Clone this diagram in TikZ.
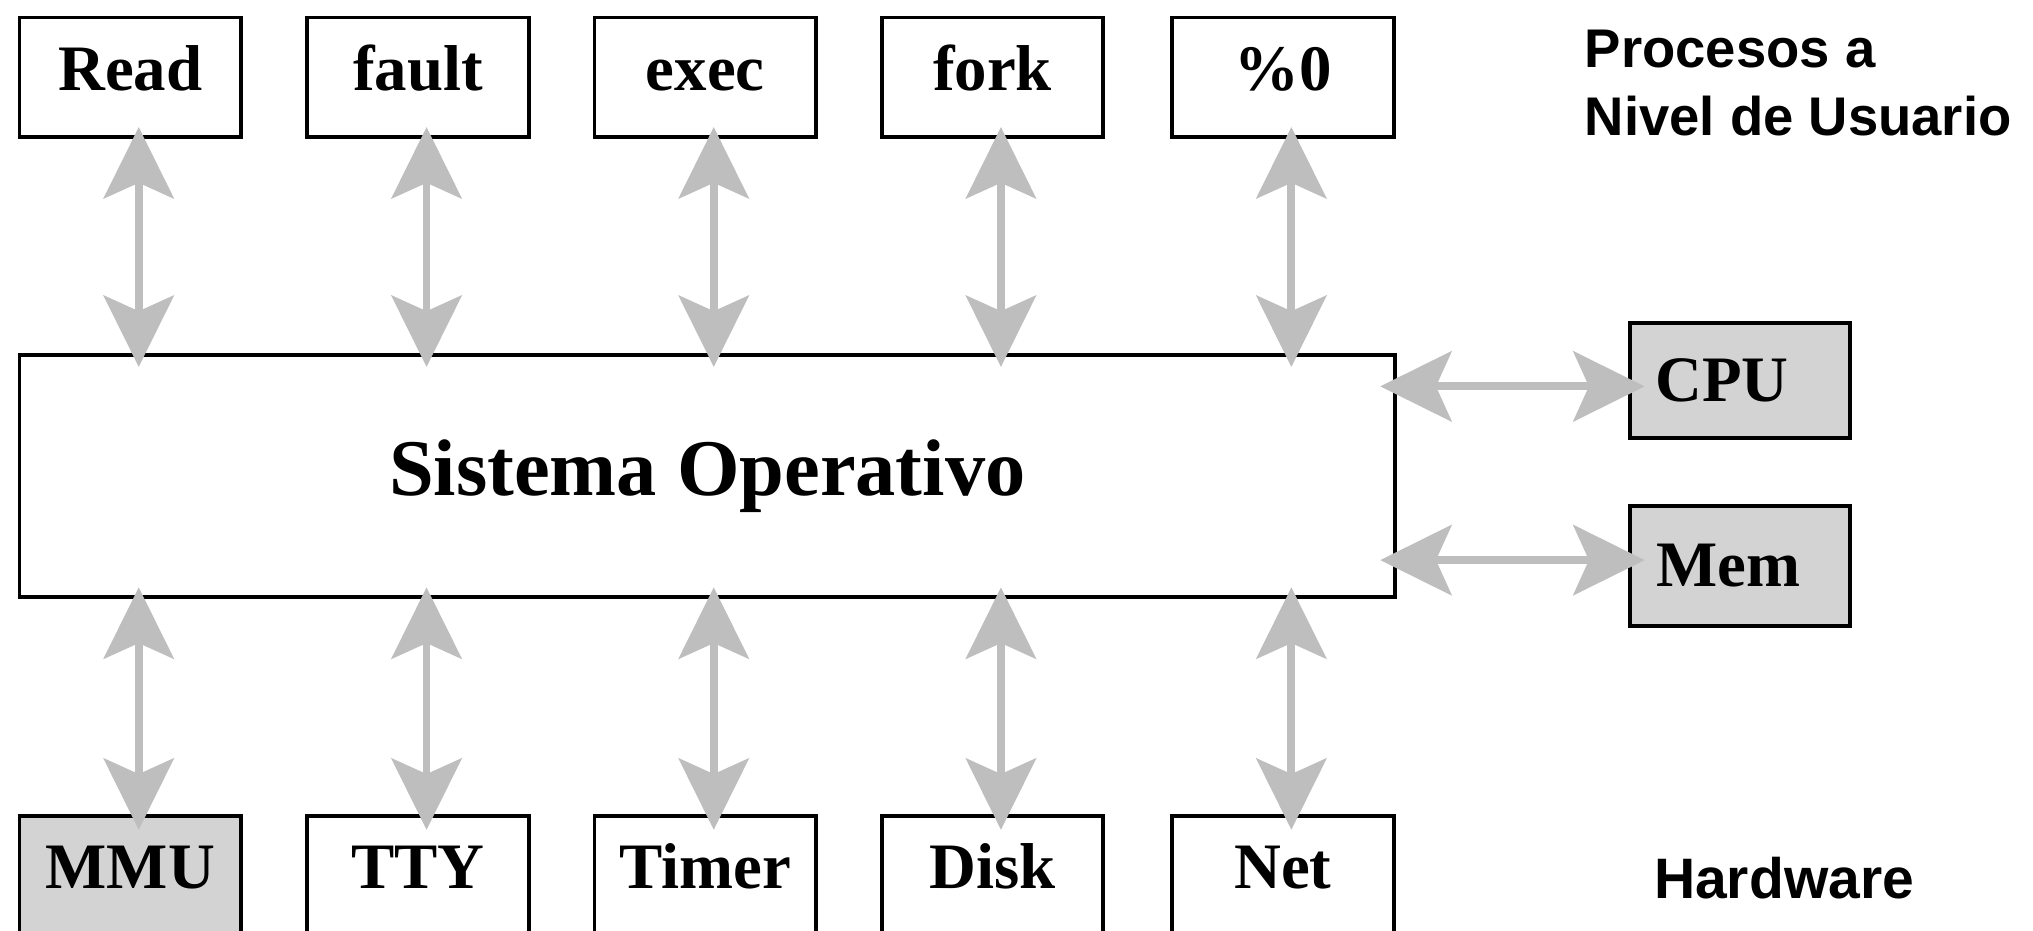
\documentclass[tikz,border=0pt]{standalone}
\usepackage{fontspec}
\setmainfont{Liberation Serif}
\newfontfamily\sidefont{Liberation Sans}
\usetikzlibrary{arrows.meta}
\definecolor{arrowgray}{RGB}{190,190,190}
\definecolor{boxgray}{RGB}{211,211,211}
\begin{document}
\begin{tikzpicture}[x=0.5pt,y=-0.5pt,
  box/.style={draw=black, line width=1.5pt, fill=white, inner sep=0pt,
    minimum width=85.5pt, font=\fontsize{25}{30}\selectfont\bfseries},
  topbox/.style={box, anchor=north, text height=28pt, text depth=18pt},
  hwbox/.style={box, anchor=north, text height=28pt, text depth=40pt},
  grayfill/.style={fill=boxgray},
  sidebox/.style={box, grayfill, minimum width=85pt},
  arr/.style={draw=arrowgray, line width=3pt,
    {Stealth[length=27.5pt,width=27pt,inset=6pt,fill=arrowgray]}-{Stealth[length=27.5pt,width=27pt,inset=6pt,fill=arrowgray]}},
  sidelabel/.style={font=\sidefont\fontsize{21}{26}\selectfont\bfseries, inner sep=0pt, align=left}
]
\useasboundingbox (0,0) rectangle (1568,718);
\fill[white] (0,0) rectangle (1568,718);

% top row
\node[topbox] (rd) at (100.5,12) {Read};
\node[topbox] (ft) at (322.5,12) {fault};
\node[topbox] (ex) at (544,12) {exec};
\node[topbox] (fk) at (765.5,12) {fork};
\node[topbox] (pc) at (989.5,12) {\%0};

% OS box
\node[box, minimum width=530.5pt, minimum height=93.5pt,
  font=\fontsize{31}{36}\selectfont\bfseries] (os) at (545.5,367) {Sistema Operativo};

% side boxes
\node[sidebox, minimum height=44.5pt] (cpu) at (1342,293.5) {CPU\hspace*{14pt}};
\node[sidebox, minimum height=46.5pt] (mem) at (1342,436.5) {Mem\hspace*{9pt}};

% bottom row
\node[hwbox, grayfill] (mmu) at (100.5,628) {MMU};
\node[hwbox] (tty) at (322.5,628) {TTY};
\node[hwbox] (tmr) at (544,628) {Timer};
\node[hwbox] (dsk) at (765.5,628) {Disk};
\node[hwbox] (net) at (989.5,628) {Net};

% labels
\node[sidelabel, anchor=west] (usr) at (1222,64) {Procesos a\\Nivel de Usuario};
\node[sidelabel, font=\sidefont\fontsize{22}{26}\selectfont\bfseries] (hw) at (1376,677) {Hardware};

% vertical arrows top
\foreach \n in {rd,ft,ex,fk,pc}{
  \draw[arr, shorten <=-4.5pt, shorten >=-5.5pt]
    ([xshift=3.25pt]\n.south) -- ([xshift=3.25pt]\n.south |- os.north);
}
% vertical arrows bottom
\foreach \n in {mmu,tty,tmr,dsk,net}{
  \draw[arr, shorten <=-4.5pt, shorten >=-6pt]
    ([xshift=3.25pt]\n.north |- os.south) -- ([xshift=3.25pt]\n.north);
}
% horizontal arrows
\coordinate (ca) at ([yshift=-2.25pt]cpu.west);
\coordinate (ma) at ([yshift=2.25pt]mem.west);
\draw[arr, shorten <=-6.5pt, shorten >=-6.5pt] (os.east |- ca) -- (ca);
\draw[arr, shorten <=-6.5pt, shorten >=-6.5pt] (os.east |- ma) -- (ma);
\end{tikzpicture}
\end{document}
